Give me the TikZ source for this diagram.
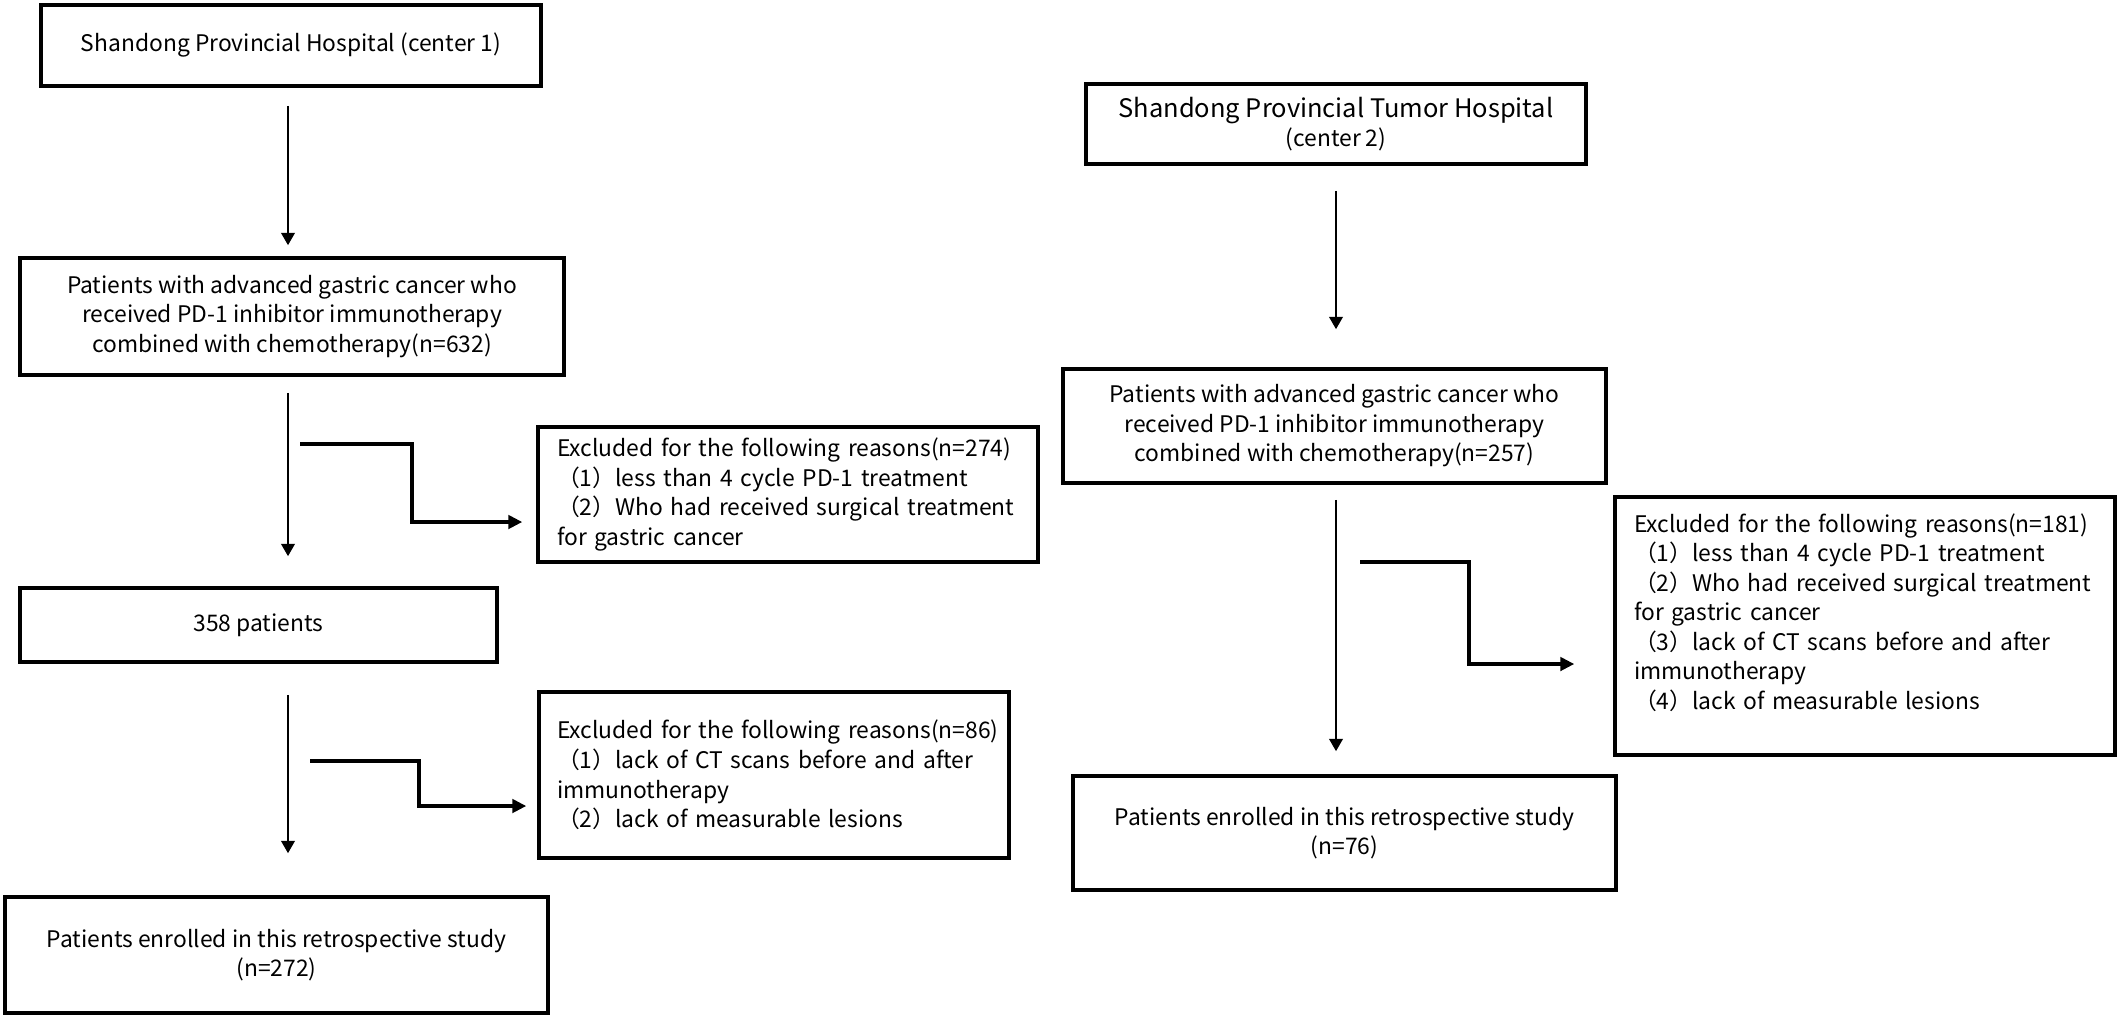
\documentclass[tikz,border=0pt]{standalone}
\usepackage{fontspec}
\setmainfont{Noto Sans CJK SC}
\usetikzlibrary{arrows.meta}
\newlength\pxu
\setlength\pxu{0.02cm}
\newcommand\boxfont{\fontsize{13pt}{16.8pt}\selectfont\hyphenpenalty=10000\relax\exhyphenpenalty=10000\relax}

\begin{document}
\begin{tikzpicture}[x=0.02cm,y=-0.02cm,
  box/.style={draw,line width=2pt,inner sep=0pt,align=center,font=\boxfont},
  exbox/.style={box,align=left},
  down/.style={-{Triangle[length=0.25cm,width=0.27cm]},line width=1.5pt},
  elbow/.style={-{Triangle[length=0.28cm,width=0.27cm]},line width=1.9pt}]
\useasboundingbox (0,0) rectangle (2120,1019);
% centre 1
\node[box,minimum width=500\pxu,minimum height=81\pxu] (hosp1) at (291,45.5)
  {Shandong Provincial Hospital (center 1)};
\node[box,minimum width=544\pxu,minimum height=117\pxu] (pat1) at (292,316.5)
  {Patients with advanced gastric cancer who\\received PD-1 inhibitor immunotherapy\\combined with chemotherapy(n=632)};
\node[exbox,minimum width=500\pxu,minimum height=135\pxu,text width=462\pxu] (ex1) at (788,494.5)
  {Excluded for the following reasons(n=274)\\（1）less than 4 cycle PD-1 treatment\\（2）Who had received surgical treatment\\for gastric cancer};
\node[box,minimum width=477\pxu,minimum height=74\pxu] (n358) at (258.5,625) {358 patients};
\node[exbox,minimum width=470\pxu,minimum height=166\pxu,text width=434\pxu] (ex2) at (774,775)
  {\mbox{Excluded for the following reasons(n=86)}\\（1）lack of CT scans before and after\\immunotherapy\\（2）lack of measurable lesions};
\node[box,minimum width=543\pxu,minimum height=116\pxu] (fin1) at (276.5,955)
  {Patients enrolled in this retrospective study\\(n=272)};
% centre 2
\node[box,minimum width=500\pxu,minimum height=80\pxu] (hosp2) at (1336,124)
  {{\fontsize{14.5pt}{17.5pt}\selectfont Shandong Provincial Tumor Hospital}\\(center 2)};
\node[box,minimum width=543\pxu,minimum height=114\pxu] (pat2) at (1334.5,426)
  {Patients with advanced gastric cancer who\\received PD-1 inhibitor immunotherapy\\combined with chemotherapy(n=257)};
\node[exbox,minimum width=500\pxu,minimum height=258\pxu,text width=462\pxu] (ex3) at (1865,626)
  {Excluded for the following reasons(n=181)\\（1）less than 4 cycle PD-1 treatment\\（2）Who had received surgical treatment\\for gastric cancer\\（3）lack of CT scans before and after\\immunotherapy\\（4）lack of measurable lesions\\~};
\node[box,minimum width=543\pxu,minimum height=114\pxu] (fin2) at (1344.5,833)
  {Patients enrolled in this retrospective study\\(n=76)};
% arrows
\coordinate (c1) at (288,0);
\coordinate (c2) at (1336,0);
\draw[down,shorten <=18\pxu,shorten >=11\pxu] (hosp1.south -| c1) -- (pat1.north -| c1);
\draw[down,shorten <=16\pxu,shorten >=30\pxu] (pat1.south -| c1) -- (n358.north -| c1);
\draw[down,shorten <=31\pxu,shorten >=42\pxu] (n358.south -| c1) -- (fin1.north -| c1);
\draw[down,shorten <=25\pxu,shorten >=38\pxu] (hosp2.south -| c2) -- (pat2.north -| c2);
\draw[down,shorten <=15\pxu,shorten >=23\pxu] (pat2.south -| c2) -- (fin2.north -| c2);
\coordinate (s1) at (300,444);  \coordinate (k1) at (412,522);
\coordinate (s2) at (310,761);  \coordinate (k2) at (419,806);
\coordinate (s3) at (1360,562); \coordinate (k3) at (1469,664);
\draw[elbow,shorten >=14\pxu] (s1) -| (k1) -- (k1 -| ex1.west);
\draw[elbow,shorten >=11\pxu] (s2) -| (k2) -- (k2 -| ex2.west);
\draw[elbow,shorten >=39\pxu] (s3) -| (k3) -- (k3 -| ex3.west);
\end{tikzpicture}
\end{document}
